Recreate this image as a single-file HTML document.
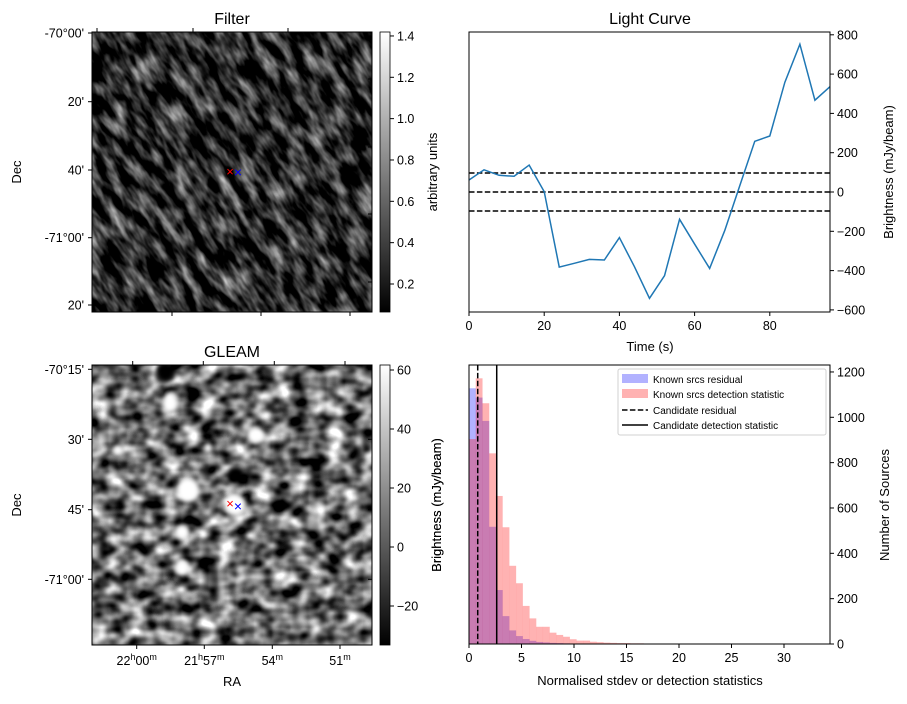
<!DOCTYPE html>
<html><head><meta charset="utf-8"><style>
body{margin:0;background:#fff;}
svg text{font-family:"Liberation Sans","DejaVu Sans",sans-serif;fill:#000;}
</style></head><body>
<svg id="fig" width="907" height="699" viewBox="0 0 907 699" xmlns="http://www.w3.org/2000/svg">
<defs>
<filter id="fnoise" x="0" y="0" width="100%" height="100%" color-interpolation-filters="sRGB">
<feTurbulence type="fractalNoise" baseFrequency="0.035 0.1" numOctaves="3" seed="4"/>
<feColorMatrix type="matrix" values="1.5 0 0 0 -0.58  1.5 0 0 0 -0.58  1.5 0 0 0 -0.58  0 0 0 0 1"/>
</filter>
<filter id="gnoise" x="0" y="0" width="100%" height="100%" color-interpolation-filters="sRGB">
<feTurbulence type="fractalNoise" baseFrequency="0.055 0.07" numOctaves="2" seed="9"/>
<feColorMatrix type="matrix" values="1.9 0 0 0 -0.52  1.9 0 0 0 -0.52  1.9 0 0 0 -0.52  0 0 0 0 1"/>
</filter>
<filter id="blur3" color-interpolation-filters="sRGB"><feGaussianBlur stdDeviation="2.5"/></filter>
<clipPath id="cf"><rect x="92" y="32" width="280" height="280"/></clipPath>
<clipPath id="cg"><rect x="92" y="365" width="280" height="280"/></clipPath>
<linearGradient id="cbar" x1="0" y1="1" x2="0" y2="0"><stop offset="0" stop-color="#000"/><stop offset="1" stop-color="#fff"/></linearGradient>
</defs>

<g>
<text x="232" y="24" font-size="16" text-anchor="middle">Filter</text>
<g clip-path="url(#cf)">
<rect x="92" y="32" width="280" height="280" fill="#333"/>
<g transform="rotate(58 232 172)"><rect x="-40" y="-100" width="560" height="560" filter="url(#fnoise)"/></g>
</g>
<rect x="92" y="32" width="280" height="280" fill="none" stroke="#000" stroke-width="1"/>
<text x="230" y="176" font-size="13" text-anchor="middle" style="fill:red">×</text>
<text x="238" y="177" font-size="14" text-anchor="middle" style="fill:blue">×</text>
<g id="filterTicks"></g>
<rect x="380" y="32" width="10" height="280" fill="url(#cbar)" stroke="#000" stroke-width="0.8"/>
<g id="filterCbTicks"></g>
<text transform="translate(437 172) rotate(-90)" font-size="13" text-anchor="middle">arbitrary units</text>
<text transform="translate(21 172) rotate(-90)" font-size="13" text-anchor="middle">Dec</text>
</g>

<g>
<text x="232" y="357" font-size="16" text-anchor="middle">GLEAM</text>
<g clip-path="url(#cg)">
<rect x="92" y="365" width="280" height="280" fill="#777"/>
<rect x="92" y="365" width="280" height="280" filter="url(#gnoise)"/>
<g filter="url(#blur3)" fill="#fff">
<ellipse cx="170" cy="402" rx="7" ry="10"/>
<ellipse cx="256" cy="435" rx="9" ry="8"/>
<ellipse cx="188" cy="490" rx="11" ry="12"/>
<ellipse cx="235" cy="505" rx="11" ry="11"/>
<ellipse cx="182" cy="532" rx="7" ry="7"/>
<ellipse cx="182" cy="568" rx="7" ry="8"/>
<ellipse cx="118" cy="450" rx="5" ry="5"/>
<ellipse cx="208" cy="448" rx="4" ry="5"/>
</g>
<g filter="url(#blur3)" fill="#000"><ellipse cx="165" cy="372" rx="9" ry="10"/><ellipse cx="236" cy="474" rx="8" ry="7"/></g>
</g>
<rect x="92" y="365" width="280" height="280" fill="none" stroke="#000" stroke-width="1"/>
<text x="230" y="508" font-size="13" text-anchor="middle" style="fill:red">×</text>
<text x="238" y="511" font-size="14" text-anchor="middle" style="fill:blue">×</text>
<g id="gleamTicks"></g>
<rect x="380" y="365" width="10" height="280" fill="url(#cbar)" stroke="#000" stroke-width="0.8"/>
<g id="gleamCbTicks"></g>
<text transform="translate(441 505) rotate(-90)" font-size="13" text-anchor="middle">Brightness (mJy/beam)</text>
<text transform="translate(21 505) rotate(-90)" font-size="13" text-anchor="middle">Dec</text>
<text x="232" y="686" font-size="13" text-anchor="middle">RA</text>
</g>

<g>
<text x="650" y="24" font-size="16" text-anchor="middle">Light Curve</text>
<g id="lcMarks"></g>
<rect x="469" y="32" width="361" height="280" fill="none" stroke="#000" stroke-width="1"/>
<g id="lcTicks"></g>
<text x="650" y="351" font-size="13" text-anchor="middle">Time (s)</text>
<text transform="translate(893 172) rotate(-90)" font-size="13" text-anchor="middle">Brightness (mJy/beam)</text>
</g>

<g>
<g id="hsMarks"></g>
<rect x="469" y="365" width="361" height="279" fill="none" stroke="#000" stroke-width="1"/>
<g id="hsTicks"></g>
<text x="650" y="685" font-size="13" text-anchor="middle">Normalised stdev or detection statistics</text>
<text transform="translate(441 505) rotate(-90)" font-size="13" text-anchor="middle">Brightness (mJy/beam)</text>
<text transform="translate(889 505) rotate(-90)" font-size="13" text-anchor="middle">Number of Sources</text>
<g>
<rect x="618" y="369" width="208" height="66" fill="#fff" stroke="#ccc" stroke-width="1" rx="2" opacity="0.9"/>
<rect x="622" y="374" width="26" height="9" fill="blue" opacity="0.3"/>
<text x="653" y="383" font-size="10">Known srcs residual</text>
<rect x="622" y="389" width="26" height="9" fill="red" opacity="0.3"/>
<text x="653" y="398" font-size="10">Known srcs detection statistic</text>
<line x1="622" y1="410" x2="648" y2="410" stroke="#000" stroke-width="1.5" stroke-dasharray="5.5,2.4"/>
<text x="653" y="414" font-size="10">Candidate residual</text>
<line x1="622" y1="425" x2="648" y2="425" stroke="#000" stroke-width="1.5"/>
<text x="653" y="429" font-size="10">Candidate detection statistic</text>
</g>
</g>
</svg>
<script>
const NS='http://www.w3.org/2000/svg';
const lcTimes=[0,4,8,12,16,20,24,28,32,36,40,44,48,52,56,60,64,68,72,76,80,84,88,92,96];
const lcValues=[61,113,85,80,137,2,-382,-363,-343,-346,-232,-380,-541,-426,-139,-265,-389,-197,31,258,285,558,752,467,536];
const lcThresholds=[97,0,-97];
const lcXTicks=[0,20,40,60,80];
const lcYTicks=[-600,-400,-200,0,200,400,600,800];
const binWidth=0.64;
const redCounts=[904,1172,1062,841,653,515,345,268,168,113,76,76,50,40,32,21,15,15,10,8,6,5,4,4,3,3,2,2,1,1,1,1,0,0,0,1,1,1,1,0,1,0,0,1,0,0,0,1,0,0,0];
const blueCounts=[1128,1087,984,517,238,123,60,35,22,14,9,7,5,4,3,2,2,1,1,1,1,0,0,0,0,0,1];
const candidateResidual=0.83;
const candidateDetection=2.64;
const hsXTicks=[0,5,10,15,20,25,30];
const hsYTicks=[0,200,400,600,800,1000,1200];
const filterDecTicks=["-70°00'","20'","40'","-71°00'","20'"];
const gleamDecTicks=["-70°15'","30'","45'","-71°00'"];
const gleamRaTicks=[["22","h","00","m"],["21","h","57","m"],["54","m"],["51","m"]];
const filterCb=[0.2,0.4,0.6,0.8,1.0,1.2,1.4];
const gleamCb=[-20,0,20,40,60];

const lx=t=>469+t*3.76, ly=v=>192-v*0.1965;
const hx=v=>469+v*10.5, hy=c=>644-c*0.2267;
function el(tag,attrs,parent){const e=document.createElementNS(NS,tag);for(const k in attrs)e.setAttribute(k,attrs[k]);parent.appendChild(e);return e;}

const lcM=document.getElementById('lcMarks');
lcThresholds.forEach((v,i)=>{const l=el('line',{x1:469,x2:830,y1:ly(v),y2:ly(v),stroke:'#000','stroke-width':1.5,'stroke-dasharray':'5.5,2.4'},lcM);

});
const pl=el('polyline',{points:lcTimes.map((t,i)=>lx(t)+','+ly(lcValues[i])).join(' '),fill:'none',stroke:'#1f77b4','stroke-width':1.5},lcM);


const lcT=document.getElementById('lcTicks');
lcXTicks.forEach(t=>{el('line',{x1:lx(t),x2:lx(t),y1:312,y2:316,stroke:'#000'},lcT);
const tx=el('text',{x:lx(t),y:330,'font-size':12.5,'text-anchor':'middle'},lcT);tx.textContent=t;

});
lcYTicks.forEach(v=>{el('line',{x1:830,x2:834,y1:ly(v),y2:ly(v),stroke:'#000'},lcT);
const tx=el('text',{x:837,y:ly(v)+4.5,'font-size':12.5},lcT);tx.textContent=v<0?'\u2212'+(-v):v;

});

const hsM=document.getElementById('hsMarks');
blueCounts.forEach((c,i)=>{if(!c)return;const r=el('rect',{x:hx(i*binWidth),y:hy(c),width:binWidth*10.5+0.1,height:c*0.2267,fill:'blue','fill-opacity':0.3},hsM);

});
redCounts.forEach((c,i)=>{if(!c)return;const r=el('rect',{x:hx(i*binWidth),y:hy(c),width:binWidth*10.5+0.1,height:c*0.2267,fill:'red','fill-opacity':0.3},hsM);

});
const cr=el('line',{x1:hx(candidateResidual),x2:hx(candidateResidual),y1:365,y2:644,stroke:'#000','stroke-width':1.5,'stroke-dasharray':'5.5,2.4'},hsM);


const cd=el('line',{x1:hx(candidateDetection),x2:hx(candidateDetection),y1:365,y2:644,stroke:'#000','stroke-width':1.5},hsM);


const hsT=document.getElementById('hsTicks');
hsXTicks.forEach(t=>{el('line',{x1:hx(t),x2:hx(t),y1:644,y2:648,stroke:'#000'},hsT);
const tx=el('text',{x:hx(t),y:662,'font-size':12.5,'text-anchor':'middle'},hsT);tx.textContent=t;

});
hsYTicks.forEach(v=>{el('line',{x1:830,x2:834,y1:hy(v),y2:hy(v),stroke:'#000'},hsT);
const tx=el('text',{x:837,y:hy(v)+4.5,'font-size':12.5},hsT);tx.textContent=v;

});

function imgTicks(g,decY,decL,topX,botX,rightY,raL){
 decY.forEach((y,i)=>{el('line',{x1:88,x2:92,y1:y,y2:y,stroke:'#000'},g);
  const t=el('text',{x:84,y:y+4.5,'font-size':12.5,'text-anchor':'end'},g);t.textContent=decL[i];
  
  });
 topX.forEach(x=>el('line',{x1:x,x2:x,y1:decY[0]<100?28:361,y2:decY[0]<100?32:365,stroke:'#000'},g));
 botX.forEach((x,i)=>{const yb=decY[0]<100?312:645;el('line',{x1:x,x2:x,y1:yb,y2:yb+4,stroke:'#000'},g);
  if(raL){const t=el('text',{x:x,y:665,'font-size':12.5,'text-anchor':'middle'},g);
   const p=raL[i];let h='';for(let k=0;k<p.length;k++){h+=(k%2)?'<tspan dy="-5" font-size="9">'+p[k]+'</tspan>':'<tspan dy="'+(k?5:0)+'">'+p[k]+'</tspan>';}
   t.innerHTML=h;
   
   }});
 rightY.forEach(y=>el('line',{x1:368,x2:372,y1:y,y2:y,stroke:'#000'},g));
}
imgTicks(document.getElementById('filterTicks'),[33,101.7,170,237.7,305],filterDecTicks,[97,193,288],[172,261,350],[79,147,214,282],null);
imgTicks(document.getElementById('gleamTicks'),[369.3,439.3,509.7,579.3],gleamDecTicks,[132.7,203.3,274.3,345],[136.7,204.3,272.3,340],[369.3,439.3,509.7,579.3],gleamRaTicks);
function cbTicks(g,vals,f){vals.forEach(v=>{const y=f(v);el('line',{x1:390,x2:394,y1:y,y2:y,stroke:'#000'},g);
 const t=el('text',{x:397,y:y+4.5,'font-size':12.5},g);t.textContent=(v<0?'\u2212'+(-v):(Number.isInteger(v)&&g.id==='filterCbTicks'?v.toFixed(1):v));
 
 });}
cbTicks(document.getElementById('filterCbTicks'),filterCb,v=>284-(v-0.2)*206.7);
cbTicks(document.getElementById('gleamCbTicks'),gleamCb,v=>547-v*2.95);
</script>
</body></html>
